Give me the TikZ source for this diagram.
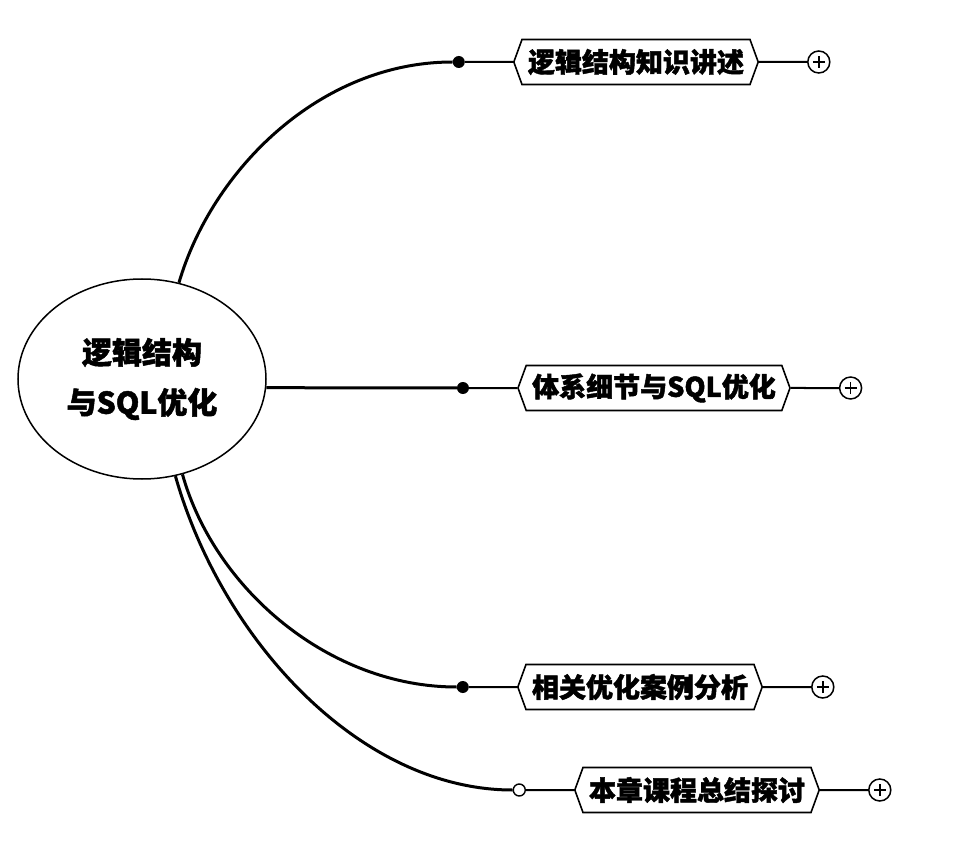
\documentclass[tikz,border=0pt]{standalone}
\usepackage{fontspec}
\newfontfamily\cjk{Noto Sans CJK SC}[BoldFeatures={FakeBold=1.6}]
\usetikzlibrary{shapes.geometric, shapes.symbols, positioning}

\begin{document}
\begin{tikzpicture}[x=1pt, y=-1pt,
  root/.style={ellipse, draw, line width=1.5pt, minimum width=248pt, minimum height=200pt,
               align=center, font=\cjk\bfseries\fontsize{30}{50}\selectfont},
  topic/.style={signal, signal to=west and east, signal pointer angle=140, draw,
                line width=1.6pt, fill=white, minimum height=45pt, inner xsep=6pt,
                font=\cjk\bfseries\fontsize{27}{30}\selectfont},
  dot/.style={circle, fill, inner sep=0pt, minimum size=12pt},
  odot/.style={circle, draw, fill=white, line width=1.4pt, inner sep=0pt, minimum size=12pt},
  plusc/.style={circle, draw, line width=1.5pt, inner sep=0pt, minimum size=22pt,
                path picture={\draw[line width=1.5pt]
                  ([xshift=-6pt]path picture bounding box.center) -- ([xshift=6pt]path picture bounding box.center)
                  ([yshift=-6pt]path picture bounding box.center) -- ([yshift=6pt]path picture bounding box.center);}},
  branch/.style={line width=3pt},
  stub/.style={line width=2pt}]
  \useasboundingbox (0,0) rectangle (956,850);
  \node[root] (root) at (142,379) {逻辑结构\\与SQL优化};
  % branches: name / centre x / centre y / dot style / label
  \foreach \n/\x/\y/\ds/\txt in {a/636/62/dot/逻辑结构知识讲述, b/654/388/dot/体系细节与SQL优化,
                                 c/640/687/dot/相关优化案例分析, d/697/790/odot/本章课程总结探讨} {
    \node[topic] (t\n) at (\x,\y) {\txt};
    \node[\ds, left=48pt of t\n.west] (d\n) {};
    \node[plusc, right=48pt of t\n.east] (p\n) {};
    \draw[stub] (d\n) -- (t\n);
    \draw[stub] (t\n) -- (p\n);
  }
  \draw[branch] (root.69) .. controls (212,170) and (320,62) .. (da);
  \draw[branch] (root.-4.3) -- (db);
  \draw[branch] (root.-67) .. controls (215,590) and (330,687) .. (dc);
  \draw[branch] (root.-71) .. controls (222,640) and (360,790) .. (dd);
\end{tikzpicture}
\end{document}
